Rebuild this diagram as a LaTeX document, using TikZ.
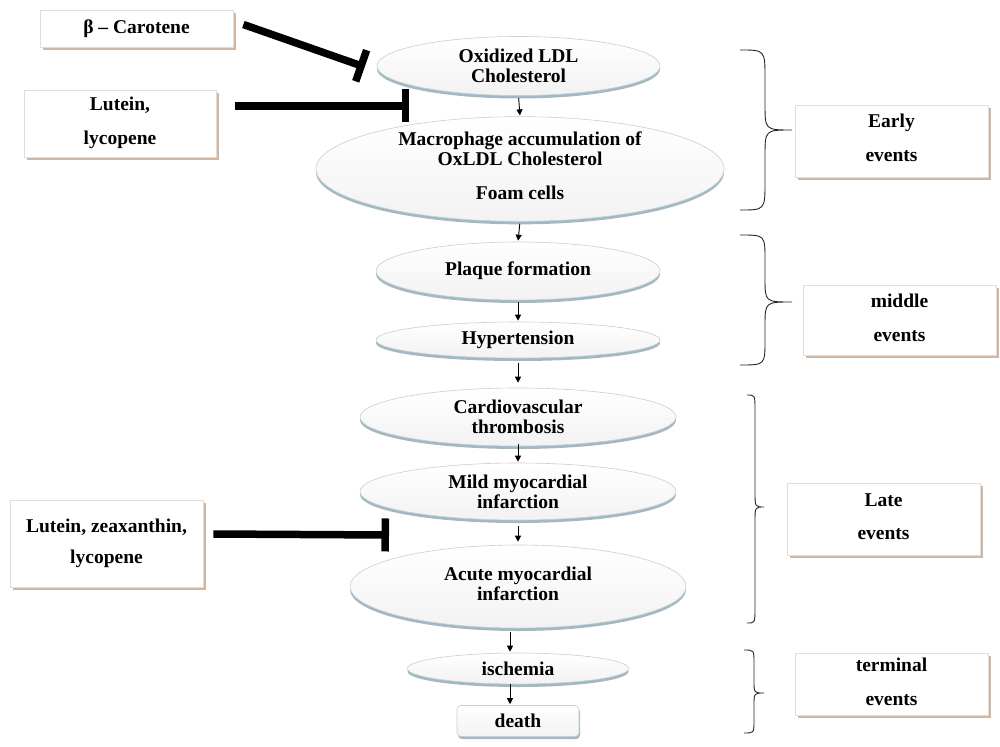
\documentclass[tikz,border=0pt]{standalone}
\usepackage{fontspec}
\setmainfont{Liberation Serif}
\usetikzlibrary{arrows.meta,shapes.geometric,shadows}
\definecolor{boxshadow}{RGB}{208,182,160}
\definecolor{boxline}{RGB}{222,222,222}
\definecolor{ellshadow}{RGB}{160,185,195}
\definecolor{ellline}{RGB}{200,206,210}
\begin{document}
\begin{tikzpicture}[x=1pt,y=-1pt,
  font=\fontsize{19.5}{20}\selectfont\bfseries,
  evbox/.style={rectangle, draw=boxline, fill=white, line width=0.8pt, inner sep=0pt, align=center,
    drop shadow={shadow xshift=2.5pt, shadow yshift=-3pt, fill=boxshadow, opacity=1}},
  evell/.style={ellipse, draw=ellline, line width=0.6pt, top color=white, bottom color=gray!10,
    inner sep=0pt, align=center,
    drop shadow={shadow xshift=0pt, shadow yshift=-3pt, fill=ellshadow, opacity=1}},
  endbox/.style={rectangle, rounded corners=4pt, draw=ellline, line width=0.6pt, top color=white,
    bottom color=gray!10, inner sep=0pt, align=center,
    drop shadow={shadow xshift=1pt, shadow yshift=-2.5pt, fill=ellshadow, opacity=1}},
  flow/.style={-{Triangle[length=6pt,width=6pt]}, line width=0.9pt, shorten <=2pt, shorten >=1pt},
  inhib/.style={line width=7.5pt, -{Bar[width=33pt]}},
  bracestyle/.style={line width=0.9pt, black!85}]
\fill[white] (0,0) rectangle (1000,746);
\useasboundingbox (0,0) rectangle (1000,746);

% central chain
\node[evell, minimum width=283pt, minimum height=59pt] (ox) at (518.5,66) {Oxidized LDL\\Cholesterol};
\node[evell, minimum width=408pt, minimum height=102pt] (mac) at (520,169)
  {\raisebox{-8pt}{\begin{tabular}{@{}c@{}}Macrophage accumulation of\\OxLDL Cholesterol\\[14pt]Foam cells\end{tabular}}};
\node[evell, minimum width=284pt, minimum height=58pt] (plaque) at (518,271) {\raisebox{3pt}{Plaque formation}};
\node[evell, minimum width=284pt, minimum height=36pt] (hyper) at (518,340) {\raisebox{-2pt}{Hypertension}};
\node[evell, minimum width=316pt, minimum height=58pt] (cardio) at (518,417) {Cardiovascular\\thrombosis};
\node[evell, minimum width=316pt, minimum height=57pt] (mild) at (518,491.5) {Mild myocardial\\infarction};
\node[evell, minimum width=336pt, minimum height=83pt] (acute) at (518,586.5) {\raisebox{4pt}{\begin{tabular}{@{}c@{}}Acute myocardial\\infarction\end{tabular}}};
\node[evell, minimum width=221pt, minimum height=31pt] (isch) at (518,668.5) {\raisebox{-3pt}{ischemia}};
\node[endbox, minimum width=122pt, minimum height=31pt] (death) at (518,721) {death};

% flow arrows
\draw[flow] (ox.south) -- (mac.north);
\draw[flow] (mac.south) -- (plaque.north);
\draw[flow] (plaque.south) -- (hyper.north);
\draw[flow, shorten <=5pt, shorten >=5pt] (hyper.south) -- (cardio.north);
\draw[flow, shorten <=-2pt] (cardio.south) -- (mild.north);
\draw[flow, shorten <=6pt, shorten >=3pt] (mild.south) -- (acute.north);
\draw[flow, shorten <=4pt] ([xshift=-8pt]acute.south) -- ([xshift=-8pt]isch.north);
\draw[flow, shorten <=0pt] ([xshift=-8pt]isch.south) -- ([xshift=-8pt]death.north);

% carotenoid boxes
\node[evbox, minimum width=193pt, minimum height=37pt] (bc) at (136.5,28.5) {β – Carotene};
\node[evbox, minimum width=192pt, minimum height=67pt] (lut) at (120,123.5)
  {\begin{tabular}{@{}c@{}}Lutein,\\[14pt]lycopene\end{tabular}};
\node[evbox, minimum width=193pt, minimum height=87pt] (lzl) at (106.5,543.5)
  {\raisebox{8pt}{\begin{tabular}{@{}c@{}}Lutein, zeaxanthin,\\[11pt]lycopene\end{tabular}}};

% inhibition bars
\coordinate (lutbar) at (409,106);
\coordinate (lzlbar) at (389,535);
\draw[inhib] ([shift={(10pt,4pt)}]bc.east) -- ([shift={(-12pt,-1pt)}]ox.west);
\draw[inhib] ([shift={(19pt,17.5pt)}]lut.east) -- (lutbar);
\draw[inhib] ([shift={(10pt,9.5pt)}]lzl.east) -- (lzlbar);

% event boxes
\node[evbox, minimum width=193pt, minimum height=72pt] (early) at (891.5,141)
  {\begin{tabular}{@{}c@{}}Early\\[14pt]events\end{tabular}};
\node[evbox, minimum width=193pt, minimum height=70pt] (middle) at (899.5,320)
  {\begin{tabular}{@{}c@{}}middle\\[14pt]events\end{tabular}};
\node[evbox, minimum width=193pt, minimum height=72pt] (late) at (883.5,519)
  {\begin{tabular}{@{}c@{}}Late\\[13pt]events\end{tabular}};
\node[evbox, minimum width=193pt, minimum height=62pt] (terminal) at (891.5,684)
  {\raisebox{-3pt}{\begin{tabular}{@{}c@{}}terminal\\[14pt]events\end{tabular}}};

% braces
\draw[bracestyle] (740,50) .. controls (765,50) .. (765,78) -- (765,104)
  .. controls (765,130) .. (792,130) .. controls (765,130) .. (765,156)
  -- (765,182) .. controls (765,210) .. (740,210);
\draw[bracestyle] (740,235) .. controls (765,235) .. (765,260) -- (765,278)
  .. controls (765,302) .. (792,302) .. controls (765,302) .. (765,326)
  -- (765,340) .. controls (765,365) .. (740,365);
\draw[bracestyle] (747,395) .. controls (755,395) .. (755,410) -- (755,492)
  .. controls (755,507) .. (764,507) .. controls (755,507) .. (755,522)
  -- (755,608) .. controls (755,623) .. (747,623);
\draw[bracestyle] (744,650) .. controls (754,650) .. (754,663) -- (754,681)
  .. controls (754,693) .. (764,693) .. controls (754,693) .. (754,705)
  -- (754,721) .. controls (754,733) .. (744,733);
\end{tikzpicture}
\end{document}
